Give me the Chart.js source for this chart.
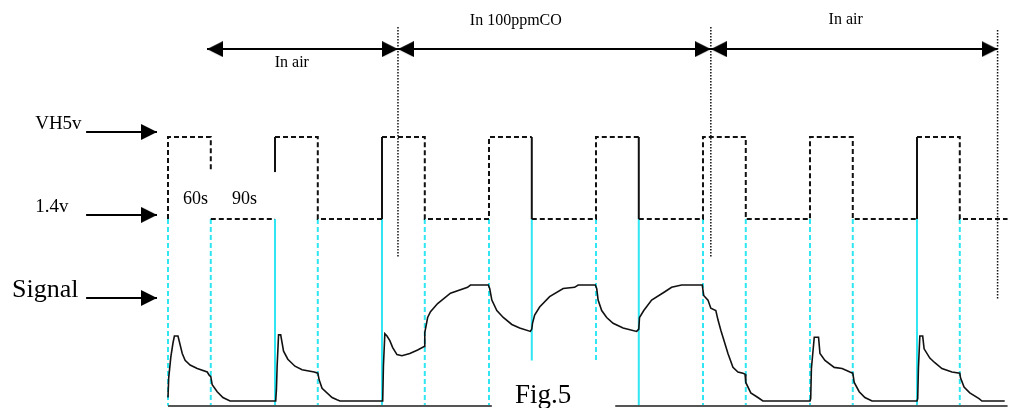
<!DOCTYPE html>
<html>
<head>
<meta charset="utf-8">
<title>Fig.5</title>
<script src="https://cdn.jsdelivr.net/npm/chart.js@4.4.1/dist/chart.umd.min.js"></script>
<style>
  html, body { margin: 0; padding: 0; background: #fff; }
  #wrap { width: 1011px; height: 408px; position: relative; }
</style>
</head>
<body>
<div id="wrap"><canvas id="fig"></canvas></div>
<script>
// time in seconds (one heater cycle = 60s at 5V + 90s at 1.4V)
const HIGH = 5, LOW = 1.4;
const solidEdges = [150, 300, 510, 660, 1050];   // edges drawn as solid lines

// heater voltage trace, null = break in the line (around the "60s 90s" text)
const heaterTrace = [
    [0, LOW], [0, HIGH], [60, HIGH], [60, 3.46], null,
    [60, LOW], [150, LOW], null,
    [150, 3.46], [150, HIGH], [210, HIGH], [210, LOW], [300, LOW],
    [300, HIGH], [360, HIGH], [360, LOW], [450, LOW],
    [450, HIGH], [510, HIGH], [510, LOW], [600, LOW],
    [600, HIGH], [660, HIGH], [660, LOW], [750, LOW],
    [750, HIGH], [810, HIGH], [810, LOW], [900, LOW],
    [900, HIGH], [960, HIGH], [960, LOW], [1050, LOW],
    [1050, HIGH], [1110, HIGH], [1110, LOW], [1177, LOW]
];

// sensor signal, [time, relative level], read per cycle
const sigAir1 = [[0, 0.03], [1, 0.20], [4, 0.38], [7, 0.50], [9, 0.56], [14, 0.56], [20, 0.41], [24, 0.35], [31, 0.31],
    [41, 0.28], [55, 0.25], [58, 0.22], [60, 0.21], [62, 0.14], [69, 0.08], [77, 0.03], [87, 0], [150, 0]];
const sigAir2 = [[151, 0], [152, 0.10], [153, 0.30], [155, 0.57], [158, 0.57], [162, 0.43], [168, 0.36], [178, 0.30],
    [188, 0.27], [205, 0.25], [210, 0.24], [212, 0.18], [216, 0.11], [230, 0.03], [237, 0.01], [241, 0], [300, 0]];
const sigCO3 = [[301, 0], [302, 0.30], [304, 0.58], [307, 0.56], [311, 0.52], [315, 0.46], [321, 0.40], [328, 0.39],
    [339, 0.41], [350, 0.44], [359, 0.47], [360, 0.59], [364, 0.72], [368, 0.77], [378, 0.84], [396, 0.93],
    [420, 0.98], [424, 1.0], [449, 1.0]];
const sigCO4 = [[451, 0.97], [454, 0.87], [461, 0.78], [470, 0.72], [482, 0.66], [493, 0.63], [508, 0.60], [510, 0.62],
    [511, 0.67], [514, 0.74], [521, 0.81], [535, 0.90], [554, 0.97], [570, 0.98], [575, 1.0], [599, 1.0]];
const sigCO5 = [[601, 0.97], [603, 0.87], [608, 0.78], [615, 0.72], [624, 0.67], [638, 0.63], [657, 0.60], [660, 0.62],
    [661, 0.72], [667, 0.78], [678, 0.87], [696, 0.94], [706, 0.98], [720, 1.0], [749, 1.0]];
const sigAir6 = [[751, 0.91], [757, 0.87], [761, 0.80], [768, 0.78], [771, 0.70], [775, 0.61], [779, 0.53], [785, 0.41],
    [792, 0.29], [799, 0.25], [806, 0.24], [809, 0.23], [810, 0.16], [817, 0.07], [827, 0.03], [834, 0], [900, 0]];
const sigAir7 = [[901, 0.02], [902, 0.28], [906, 0.55], [912, 0.55], [914, 0.41], [921, 0.35], [934, 0.29], [945, 0.28],
    [956, 0.25], [960, 0.24], [962, 0.16], [969, 0.08], [977, 0.03], [987, 0], [1050, 0]];
const sigAir8 = [[1051, 0.02], [1052, 0.28], [1054, 0.56], [1058, 0.56], [1060, 0.45], [1068, 0.37], [1075, 0.33],
    [1085, 0.28], [1099, 0.25], [1110, 0.24], [1111, 0.20], [1116, 0.12], [1124, 0.07], [1137, 0.02], [1141, 0], [1173, 0]];

// guide lines from the 1.4V level down to the signal base
const CYAN_TOP = 1.57, CYAN_BOTTOM = -0.04, CYAN_SHORT = 0.35;
const cyanSolid = [150, 300, 510, 660, 1050];
const cyanDashed = [0, 60, 210, 360, 450, 600, 750, 810, 900, 960, 1110];
const cyanShort = [510, 600];

// signal base line, broken under "Fig.5"
const baseLevel = -0.043;
const baseRuns = [[0, 454], [627, 1177]];

// gas phases: arrow ends and dotted markers
const phaseArrowY = 8.86;
const phaseStart = 54.7;
const phaseEdges = [322.4, 761, 1163];
const dottedTop = [9.83, 9.83, 9.70];
const dottedBottom = [-0.27, -0.27, -2.16];

const labels = [
    { text: 'In air', t: 173.6, v: 8.07, size: 16, align: 'center' },
    { text: 'In 100ppmCO', t: 487.6, v: 9.92, size: 16, align: 'center' },
    { text: 'In air', t: 950, v: 9.96, size: 16, align: 'center' },
    { text: 'VH5v', t: -186.2, v: 5.35, size: 19, align: 'left' },
    { text: '1.4v', t: -186.2, v: 1.71, size: 19, align: 'left' },
    { text: 'Signal', t: -218.7, v: -2.02, size: 26, align: 'left' },
    { text: '60s', t: 21, v: 2.06, size: 18, align: 'left' },
    { text: '90s', t: 89.7, v: 2.06, size: 18, align: 'left' },
    { text: 'Fig.5', t: 486.4, v: -6.68, size: 27, align: 'left' }
];

function arrowHead(dir) {
    const c = document.createElement('canvas');
    c.width = 32;
    c.height = 16;
    const g = c.getContext('2d');
    g.fillStyle = '#000';
    g.beginPath();
    if (dir > 0) {
        g.moveTo(0, 0); g.lineTo(16, 8); g.lineTo(0, 16);
    } else {
        g.moveTo(32, 0); g.lineTo(16, 8); g.lineTo(32, 16);
    }
    g.closePath();
    g.fill();
    return c;
}
const headR = arrowHead(1);
const headL = arrowHead(-1);

function toPts(list) {
    return list.map(p => p ? { x: p[0], y: p[1] } : { x: null, y: null });
}

function verticals(xs, top, bottomOf) {
    const out = [];
    xs.forEach(x => {
        out.push({ x: x, y: top }, { x: x, y: bottomOf(x) }, { x: x, y: null });
    });
    return out;
}

const cyanBottom = x => cyanShort.includes(x) ? CYAN_SHORT : CYAN_BOTTOM;

const signalPts = toPts([].concat(sigAir1, sigAir2, sigCO3, sigCO4, sigCO5, sigAir6, sigAir7, sigAir8));

const basePts = [];
baseRuns.forEach(r => basePts.push({ x: r[0], y: baseLevel }, { x: r[1], y: baseLevel }, { x: r[1], y: null }));

const dottedPts = [];
phaseEdges.forEach((x, i) => dottedPts.push({ x: x, y: dottedTop[i] }, { x: x, y: dottedBottom[i] }, { x: x, y: null }));

const phasePts = [];
let from = phaseStart;
phaseEdges.forEach(x => {
    phasePts.push({ x: from, y: phaseArrowY, h: 'L' }, { x: x, y: phaseArrowY, h: 'R' }, { x: x, y: null });
    from = x;
});

const sideArrowFrom = -114.8, sideArrowTo = -15.4;
const sideHeater = [
    { x: sideArrowFrom, y: 5.22 }, { x: sideArrowTo, y: 5.22, h: 'R' }, { x: sideArrowTo, y: null },
    { x: sideArrowFrom, y: 1.58 }, { x: sideArrowTo, y: 1.58, h: 'R' }
];
const sideSignal = [{ x: sideArrowFrom, y: 0.888 }, { x: sideArrowTo, y: 0.888, h: 'R' }];

const headStyle = c => c.raw && c.raw.h === 'L' ? headL : (c.raw && c.raw.h === 'R' ? headR : 'circle');
const headRadius = c => c.raw && c.raw.h ? 8 : 0;

const labelsPlugin = {
    id: 'labels',
    afterDatasetsDraw(chart) {
        const ctx = chart.ctx;
        const sx = chart.scales.x, sy = chart.scales.yH;
        labels.forEach(l => {
            ctx.save();
            ctx.font = l.size + 'px "Liberation Serif", "Times New Roman", serif';
            ctx.fillStyle = '#000';
            ctx.textAlign = l.align;
            ctx.textBaseline = 'alphabetic';
            ctx.fillText(l.text, sx.getPixelForValue(l.t), sy.getPixelForValue(l.v));
            ctx.restore();
        });
    }
};

const isSolidEdge = c => c.p0.parsed.x === c.p1.parsed.x && solidEdges.includes(c.p0.parsed.x);

new Chart(document.getElementById('fig'), {
    type: 'line',
    data: {
        datasets: [
            {
                label: 'Signal', data: signalPts, yAxisID: 'yS', order: 1,
                borderColor: '#111', borderWidth: 1.6, pointRadius: 0, tension: 0
            },
            {
                label: 'Heater', data: toPts(heaterTrace), yAxisID: 'yH', order: 2,
                borderColor: '#111', borderWidth: 2, pointRadius: 0, tension: 0,
                borderDash: [5, 3], borderCapStyle: 'butt',
                segment: { borderDash: c => isSolidEdge(c) ? [] : [5, 3] }
            },
            {
                label: 'base', data: basePts, yAxisID: 'yS', order: 3,
                borderColor: '#555', borderWidth: 2, pointRadius: 0
            },
            {
                label: 'markers', data: dottedPts, yAxisID: 'yH', order: 4,
                borderColor: '#111', borderWidth: 1.5, borderDash: [1.5, 1.5], pointRadius: 0
            },
            {
                label: 'cyan solid', data: verticals(cyanSolid, CYAN_TOP, cyanBottom), yAxisID: 'yS', order: 6,
                borderColor: '#2fe6f2', borderWidth: 2, pointRadius: 0
            },
            {
                label: 'cyan dashed', data: verticals(cyanDashed, CYAN_TOP, cyanBottom), yAxisID: 'yS', order: 6,
                borderColor: '#2fe6f2', borderWidth: 2, borderDash: [5, 3], pointRadius: 0
            },
            {
                label: 'phases', data: phasePts, yAxisID: 'yH', order: 0,
                borderColor: '#000', borderWidth: 2,
                pointStyle: headStyle, pointRadius: headRadius, pointBackgroundColor: '#000', pointBorderWidth: 0
            },
            {
                label: 'side heater', data: sideHeater, yAxisID: 'yH', order: 0,
                borderColor: '#000', borderWidth: 2,
                pointStyle: headStyle, pointRadius: headRadius, pointBackgroundColor: '#000', pointBorderWidth: 0
            },
            {
                label: 'side signal', data: sideSignal, yAxisID: 'yS', order: 0,
                borderColor: '#000', borderWidth: 2,
                pointStyle: headStyle, pointRadius: headRadius, pointBackgroundColor: '#000', pointBorderWidth: 0
            }
        ]
    },
    options: {
        responsive: true,
        maintainAspectRatio: false,
        animation: false,
        events: [],
        spanGaps: false,
        layout: { padding: 0, autoPadding: false },
        plugins: { legend: { display: false }, tooltip: { enabled: false } },
        scales: {
            x: { type: 'linear', display: false, min: -235.5, max: 1181.8 },
            yH: { type: 'linear', display: false, min: -6.897, max: 11.014 },
            yS: { type: 'linear', display: false, min: -0.0603, max: 3.457 }
        }
    },
    plugins: [labelsPlugin]
});
</script>
</body>
</html>
